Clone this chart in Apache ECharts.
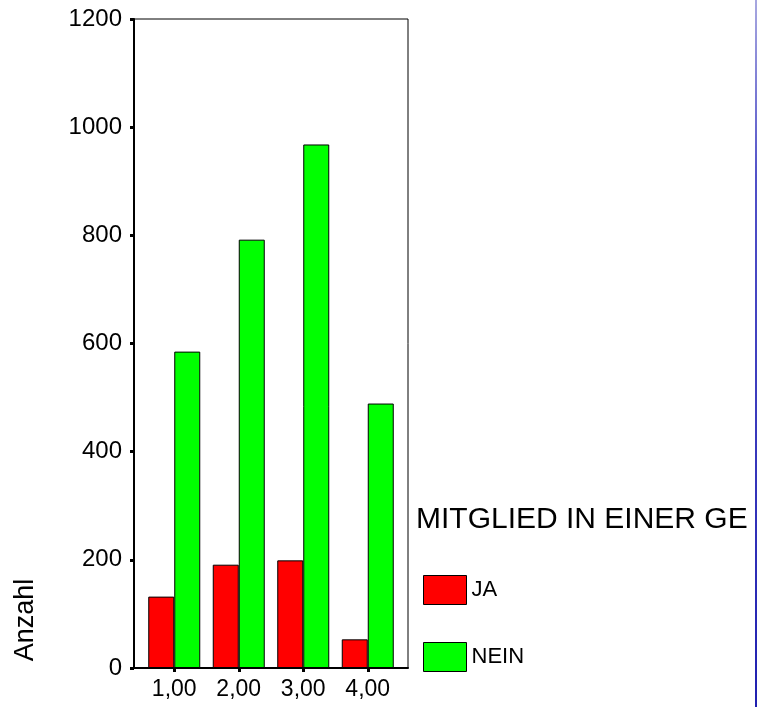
<!DOCTYPE html>
<html>
<head>
<meta charset="utf-8">
<script src="https://cdn.jsdelivr.net/npm/echarts@6/dist/echarts.min.js"></script>
<style>html,body{margin:0;padding:0;background:#fff;}#c{width:757px;height:707px;}</style>
</head>
<body>
<div id="c"></div>
<script>
var categories = ['1,00', '2,00', '3,00', '4,00'];
var jaValues = [132, 191, 199, 53];
var neinValues = [585, 792, 968, 489];
var yTicks = [0, 200, 400, 600, 800, 1000, 1200];
var seriesNames = ['JA', 'NEIN'];
var legendTitle = 'MITGLIED IN EINER GE';
var yName = 'Anzahl';

var FONT = "'Liberation Sans', Arial, sans-serif";
var chart = echarts.init(document.getElementById('c'), null, {renderer: 'canvas'});
var option = {
  backgroundColor: '#fff',
  animation: false,
  textStyle: {fontFamily: FONT, color: '#000'},
  title: {
    text: legendTitle, left: 416, top: 505, padding: 0,
    textStyle: {fontFamily: FONT, fontSize: 30, fontWeight: 'normal', color: '#000'}
  },
  legend: {
    orient: 'vertical', left: 423, top: 575, padding: 0,
    itemWidth: 43, itemHeight: 29, itemGap: 37,
    icon: 'rect',
    itemStyle: {borderColor: '#000', borderWidth: 1},
    textStyle: {fontFamily: FONT, fontSize: 22, color: '#000'},
    data: seriesNames
  },
  grid: [
    {left: 134, top: 19, width: 274, height: 649, show: true, borderColor: '#000', borderWidth: 1, backgroundColor: 'transparent'},
    {left: 142, top: 19, width: 258, height: 649}
  ],
  xAxis: [
    {gridIndex: 0, type: 'category', data: categories,
     axisLine: {show: true, lineStyle: {color: '#000', width: 2}},
     axisTick: {show: false}, axisLabel: {show: false}, splitLine: {show: false}},
    {gridIndex: 1, type: 'category', data: categories,
     axisLine: {show: false},
     axisTick: {show: true, alignWithLabel: true, length: 4, lineStyle: {color: '#000', width: 3}},
     axisLabel: {fontFamily: FONT, fontSize: 23, color: '#000', margin: 10}}
  ],
  yAxis: [
    {gridIndex: 0, type: 'value', min: 0, max: 1200, interval: 200,
     axisLine: {show: true, lineStyle: {color: '#000', width: 2}},
     axisTick: {show: true, length: 4, lineStyle: {color: '#000', width: 3}},
     axisLabel: {fontFamily: FONT, fontSize: 24, color: '#000', margin: 12,
       formatter: function (v) { return String(v); }},
     splitLine: {show: false}},
    {gridIndex: 1, type: 'value', min: 0, max: 1200, interval: 200, show: false, splitLine: {show: false}}
  ],
  series: [
    {name: seriesNames[0], type: 'bar', xAxisIndex: 1, yAxisIndex: 1, data: jaValues,
     barWidth: 26, barGap: '0%',
     itemStyle: {color: '#ff0000', borderColor: '#000', borderWidth: 1}},
    {name: seriesNames[1], type: 'bar', xAxisIndex: 1, yAxisIndex: 1, data: neinValues,
     barWidth: 26, barGap: '0%',
     itemStyle: {color: '#00ff00', borderColor: '#000', borderWidth: 1}}
  ],
  graphic: [
    {type: 'text', x: 26, y: 620, rotation: Math.PI / 2,
     style: {text: yName, fontFamily: FONT, fontSize: 27, fill: '#000', align: 'center', verticalAlign: 'middle'}},
    {type: 'rect', shape: {x: 755, y: 0, width: 2, height: 707},
     style: {fill: new echarts.graphic.LinearGradient(0, 0, 0, 1, [
       {offset: 0, color: '#a8a8e0'}, {offset: 0.25, color: '#5050c8'}, {offset: 1, color: '#2020b0'}])}}
  ]
};
chart.setOption(option);
</script>
</body>
</html>
